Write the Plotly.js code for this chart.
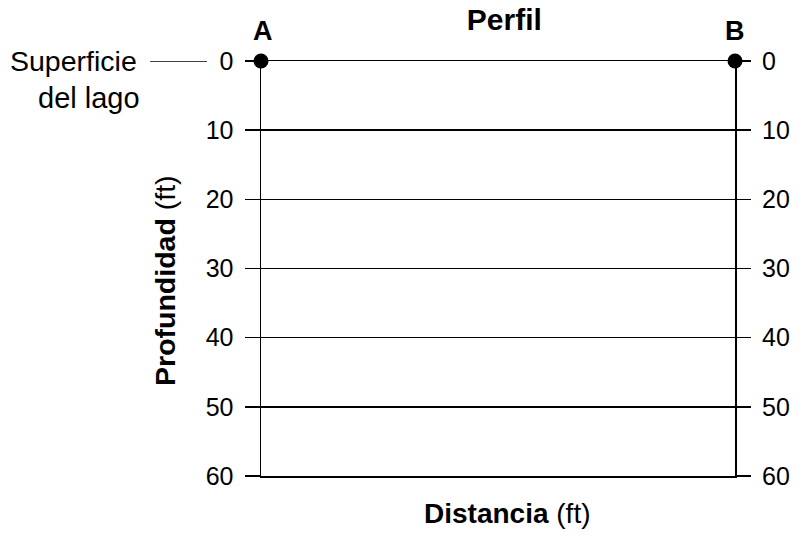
<!DOCTYPE html>
<html>
<head>
<meta charset="utf-8">
<script src="https://cdn.plot.ly/plotly-3.0.1.min.js"></script>
<style>html,body{margin:0;padding:0;background:#fff;}#chart{width:798px;height:536px;}</style>
</head>
<body>
<div id="chart"></div>
<script>
var depthTicks = [0, 10, 20, 30, 40, 50, 60];
var depthRange = [60, 0];
var distRange = [0, 100];
var pointX = [0, 100];
var pointY = [0, 0];
var pointLabels = ['A', 'B'];

var font = 'Liberation Sans, Arial, Helvetica, sans-serif';
var TF = 25;  // tick font size
var LF = 28;  // label font size

var traces = [{
  x: pointX, y: pointY, type: 'scatter', mode: 'markers',
  marker: {color: '#000', size: 15},
  cliponaxis: false, hoverinfo: 'skip', showlegend: false
}, {
  x: pointX, y: pointY, type: 'scatter', mode: 'markers', yaxis: 'y2',
  marker: {opacity: 0}, hoverinfo: 'skip', showlegend: false
}];

var annotations = pointLabels.map(function(t, i) {
  return {x: pointX[i], y: pointY[i], xref: 'x', yref: 'y', text: '<b>' + t + '</b>',
    showarrow: false, yshift: 30, xshift: i === 0 ? 2 : 0, font: {size: 27, color: '#000', family: font}};
});
annotations.push({xref: 'paper', yref: 'y', x: -0.258, y: 0, xanchor: 'right', yanchor: 'middle',
  text: 'Superficie', showarrow: false, font: {size: 28.5, color: '#000', family: font}});
annotations.push({xref: 'paper', yref: 'y', x: -0.252, y: 0, xanchor: 'right', yanchor: 'middle', yshift: -37,
  text: 'del lago', showarrow: false, font: {size: 29, color: '#000', family: font}});
annotations.push({xref: 'paper', yref: 'paper', x: 0.52, y: 0, xanchor: 'center', yanchor: 'middle', yshift: -37,
  text: '<b>Distancia</b> (ft)', showarrow: false, font: {size: LF, color: '#000', family: font}});
annotations.push({xref: 'paper', yref: 'paper', x: 0, y: 0.47, xanchor: 'center', yanchor: 'middle', xshift: -96,
  textangle: -90, text: '<b>Profundidad</b> (ft)', showarrow: false, font: {size: 28.5, color: '#000', family: font}});

var layout = {
  width: 798, height: 536,
  margin: {l: 261, r: 63, t: 61, b: 60},
  paper_bgcolor: '#fff', plot_bgcolor: '#fff',
  font: {family: font, size: TF, color: '#000'},
  title: {text: '<b>Perfil</b>', x: 0.632, xanchor: 'center', y: 0.964, yanchor: 'middle',
    font: {size: 30, color: '#000', family: font}},
  xaxis: {range: distRange, showticklabels: false, ticks: '', showgrid: false, zeroline: false,
    showline: true, mirror: true, linecolor: '#000', linewidth: 1.5},
  yaxis: {range: depthRange, tickvals: depthTicks, ticktext: depthTicks.map(String),
    ticks: 'outside', ticklen: 15, tickwidth: 1.5, tickcolor: '#000', ticklabelstandoff: 6,
    showgrid: true, gridcolor: '#000', gridwidth: 1.5, zeroline: false,
    showline: true, mirror: true, linecolor: '#000', linewidth: 1.5,
    tickfont: {size: TF, color: '#000'}},
  yaxis2: {range: depthRange, tickvals: depthTicks, ticktext: depthTicks.map(String),
    overlaying: 'y', side: 'right', matches: 'y',
    ticks: 'outside', ticklen: 15, tickwidth: 1.5, tickcolor: '#000', ticklabelstandoff: 6,
    showgrid: false, zeroline: false, showline: false,
    tickfont: {size: TF, color: '#000'}},
  shapes: [{type: 'line', xref: 'paper', yref: 'y', x0: -0.234, x1: -0.114, y0: 0, y1: 0,
    line: {color: '#000', width: 1.5}}],
  annotations: annotations,
  showlegend: false
};

Plotly.newPlot('chart', traces, layout, {staticPlot: true});
</script>
</body>
</html>
